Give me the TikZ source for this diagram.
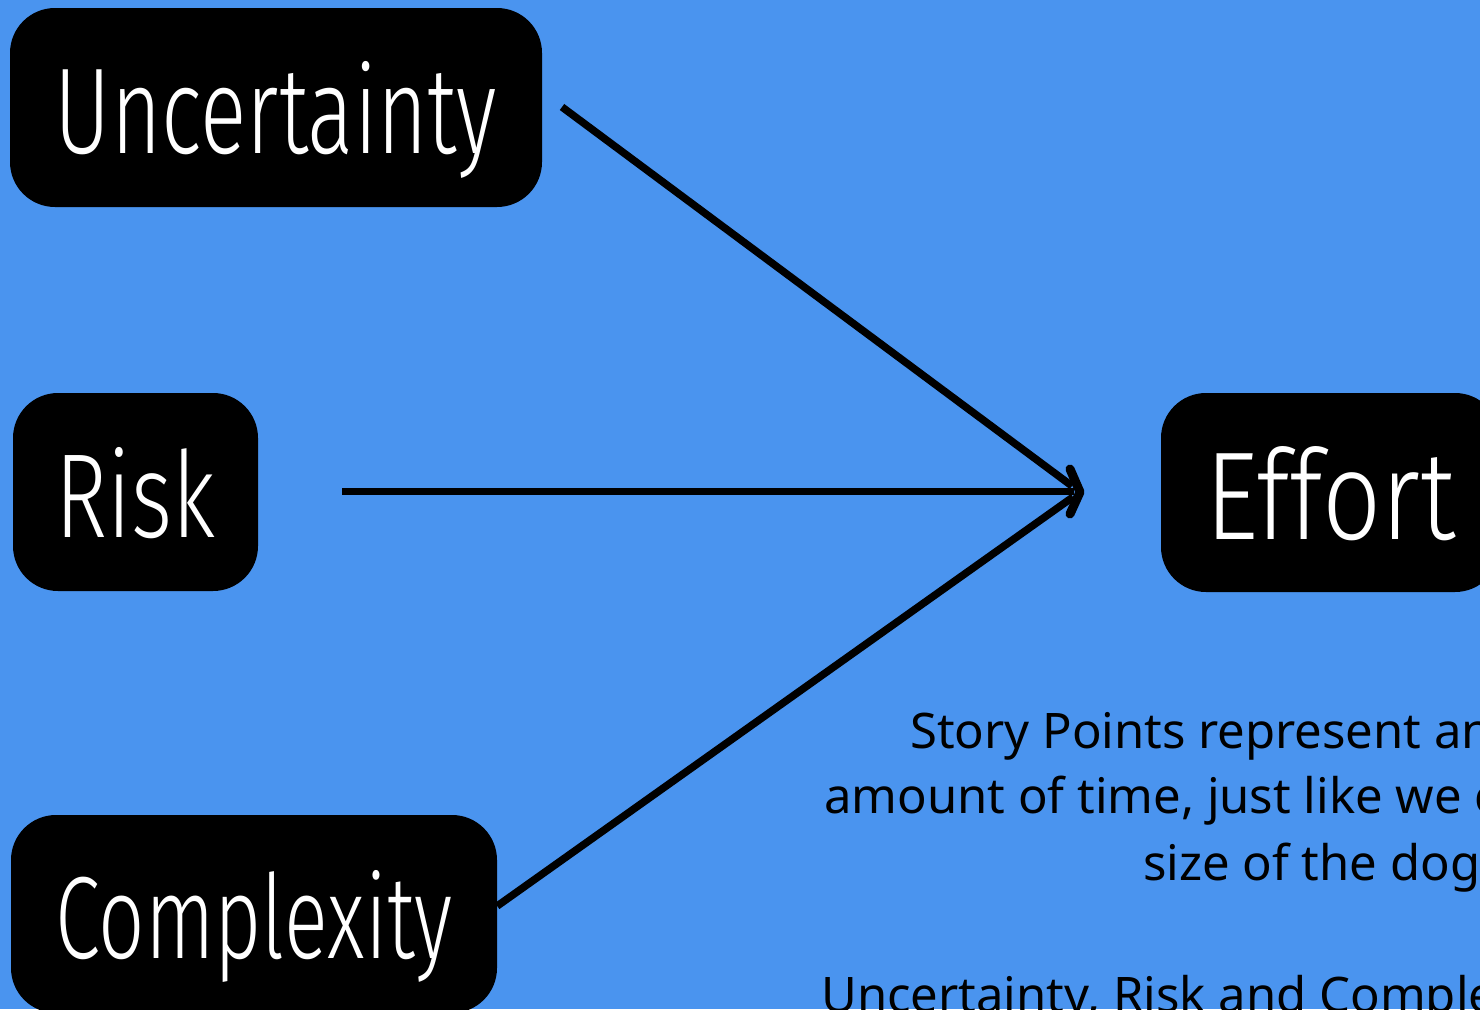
\documentclass[tikz,border=0pt]{standalone}
\usepackage{fontspec}
\setmainfont{Noto Sans}
\newfontfamily\hand{Fira Sans Light}
\usepackage{graphicx}
\definecolor{bgblue}{RGB}{74,148,239}
\tikzset{
  x=1pt, y=-1pt,
  darkbox/.style={fill=black, rounded corners=45pt, inner sep=0pt, text=white, text depth=0pt, font=\hand},
  conn/.style={line width=7.5pt, draw=black},
  bodytext/.style={anchor=base west, inner sep=0pt, font=\fontsize{49}{60}\selectfont, text=black}
}
\begin{document}
\begin{tikzpicture}
\useasboundingbox (0,0) rectangle (1480,1009);
\fill[bgblue] (0,0) rectangle (1480,1009);
\clip (0,0) rectangle (1480,1009);
\node[darkbox, minimum width=532pt, minimum height=199pt] (unc) at (276,107.5) {\resizebox{442pt}{92pt}{Uncertainty}};
\node[darkbox, minimum width=245pt, minimum height=198pt] (risk) at (135.5,492) {\resizebox{160pt}{90pt}{Risk}};
\node[darkbox, minimum width=486pt, minimum height=198pt] (comp) at (254,914) {\resizebox{397pt}{88pt}{Complexity}};
\node[darkbox, minimum width=339pt, minimum height=199pt] (eff) at (1330.5,492.5) {\resizebox{250pt}{93pt}{Effort}};
\coordinate (tip) at (1080,492);
\coordinate (us) at (562,107);
\coordinate (rs) at (342,491.5);
\coordinate (ue) at (1072,486);
\coordinate (ce) at (1073,497);
\coordinate (re) at (1074,491.5);
\draw[conn] (us) -- (ue);
\draw[conn] (rs) -- (re);
\draw[conn] (comp.east |- 0,906) -- (ce);
\draw[conn, line width=9pt, line cap=round, line join=round] (1070,469) -- (tip) -- (1070,514);
\node[bodytext] (l1) at (910,748) {Story Points represent an};
\node[bodytext] (l2) at (824,813) {amount of time, just like we can};
\node[bodytext] (l3) at (1143,880) {size of the dog,};
\node[bodytext] (l4) at (821,1012) {Uncertainty, Risk and Complexity};
\end{tikzpicture}
\end{document}
